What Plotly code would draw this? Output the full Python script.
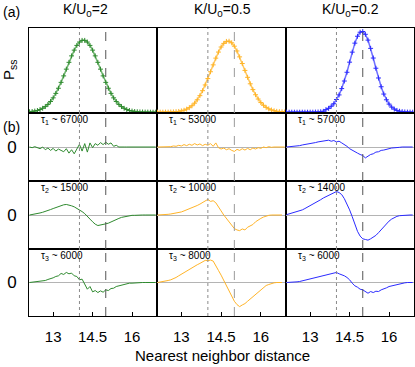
import plotly.graph_objects as go

# ---------------- data ----------------
x_nn = [12.1, 12.2, 12.3, 12.4, 12.5, 12.6, 12.7, 12.8, 12.9,
        13.0, 13.1, 13.2, 13.3, 13.4, 13.5, 13.6, 13.7, 13.8, 13.9,
        14.0, 14.1, 14.2, 14.3, 14.4, 14.5, 14.6, 14.7, 14.8, 14.9,
        15.0, 15.1, 15.2, 15.3, 15.4, 15.5, 15.6, 15.7, 15.8, 15.9,
        16.0, 16.1, 16.2, 16.3, 16.4, 16.5, 16.6, 16.7, 16.8, 16.9]

panel_titles = ["K/U<sub>0</sub>=2", "K/U<sub>0</sub>=0.5", "K/U<sub>0</sub>=0.2"]
x_ticks = [13, 14.5, 16]
x_tick_text = ["13", "14.5", "16"]
dotted_x = 14.0
dashed_x = 15.0

# (a) steady-state distributions
pss_k2 = [.005, .008, .013, .020, .031, .046, .066, .092, .127,
          .170, .223, .284, .354, .431, .511, .592, .669, .737, .793,
          .833, .853, .853, .833, .793, .737, .669, .592, .511, .431,
          .354, .284, .223, .170, .127, .092, .066, .046, .031, .020,
          .013, .008, .005, .003, .002, .001, .001, 0, 0, 0]
pss_k05 = [0, 0, 0, .001, .001, .002, .003, .006, .009,
           .015, .023, .036, .053, .076, .107, .147, .196, .255, .323,
           .399, .480, .562, .642, .714, .774, .817, .841, .843, .824,
           .784, .727, .657, .578, .496, .414, .337, .268, .207, .156,
           .114, .082, .057, .039, .026, .016, .010, .006, .004, .002]
pss_k02 = [0, 0, 0, 0, 0, 0, 0, 0, 0,
           0, 0, .001, .002, .005, .010, .030, .045, .070, .100,
           .150, .205, .280, .370, .474, .594, .713, .820, .902, .950,
           .958, .925, .856, .758, .643, .522, .406, .302, .215, .147,
           .096, .060, .036, .021, .011, .006, .003, .001, .001, 0]

# (b) modes
tau_labels = [["τ<sub>1</sub> ~ 67000", "τ<sub>1</sub> ~ 53000", "τ<sub>1</sub> ~ 57000"],
              ["τ<sub>2</sub> ~ 15000", "τ<sub>2</sub> ~ 10000", "τ<sub>2</sub> ~ 14000"],
              ["τ<sub>3</sub> ~ 6000", "τ<sub>3</sub> ~ 8000", "τ<sub>3</sub> ~ 6000"]]

m1_k2 = [0, -.02, .01, -.03, -.05, 0, -.08, -.03, -.10,
         -.04, -.12, -.06, -.10, -.14, -.05, -.18, -.08, -.20, -.06,
         .08, -.12, .10, -.15, .12, -.02, .10, .05, .13, .07,
         .14, .08, .12, .02, .05, 0, .01, 0, 0, 0,
         0, 0, 0, 0, 0, 0, 0, 0, 0, 0]
m1_k05 = [0, 0, .01, 0, .02, .01, .03, .02, .05,
          .03, .07, .04, .08, .05, .10, .06, .09, .04, .08,
          .05, .10, .02, .12, -.02, -.06, -.03, -.08, -.05, -.10,
          -.13, -.07, -.10, -.05, -.09, -.04, -.08, -.03, -.06, -.02,
          -.04, 0, -.02, .01, -.01, 0, 0, 0, 0, 0]
m1_k02 = [0, .005, .01, .02, .03, .04, .06, .07, .09,
          .10, .12, .13, .15, .16, .18, .17, .20, .17, .19,
          .15, .17, .12, .08, .02, -.05, -.10, -.15, -.18, -.22,
          -.25, -.32, -.26, -.22, -.20, -.15, -.14, -.10, -.09, -.06,
          -.05, -.03, -.03, -.01, -.01, 0, 0, 0, 0, 0]

m2_k2 = [0, .01, .02, .04, .06, .08, .10, .13, .16,
         .19, .22, .26, .28, .30, .31, .30, .27, .24, .20,
         .16, .10, .04, -.03, -.12, -.20, -.27, -.31, -.30, -.28,
         -.26, -.24, -.20, -.17, -.13, -.10, -.07, -.05, -.03, -.02,
         -.01, -.01, 0, 0, 0, 0, 0, 0, 0, 0]
m2_k05 = [0, 0, .01, .01, .02, .03, .04, .05, .07,
          .09, .12, .15, .18, .20, .24, .28, .32, .36, .40,
          .46, .40, .42, .36, .22, .12, 0, -.10, -.20, -.32,
          -.40, -.44, -.46, -.41, -.44, -.36, -.32, -.28, -.20, -.14,
          -.10, -.06, -.03, -.01, 0, 0, 0, 0, 0]
m2_k02 = [.01, .03, .05, .07, .09, .12, .15, .19, .23,
          .27, .31, .35, .40, .45, .50, .54, .58, .63, .67,
          .69, .66, .60, .48, .33, .15, -.05, -.28, -.48, -.62,
          -.70, -.72, -.74, -.70, -.66, -.60, -.52, -.43, -.34, -.25,
          -.18, -.12, -.07, -.04, -.02, -.01, 0, 0, 0, 0]

m3_k2 = [0, .01, 0, .02, .03, .05, .06, .09, .11,
         .14, .18, .20, .27, .24, .30, .26, .28, .20, .18,
         .08, .10, -.05, -.20, -.12, -.28, -.24, -.30, -.25, -.29,
         -.22, -.24, -.18, -.17, -.12, -.10, -.07, -.05, -.03, -.02,
         -.02, -.01, -.01, 0, 0, 0, 0, 0, 0, 0]
m3_k05 = [0, .01, .02, .04, .06, .08, .11, .15, .20,
          .25, .30, .35, .39, .44, .48, .53, .57, .62, .66,
          .65, .67, .64, .52, .36, .22, .06, -.12, -.28, -.44,
          -.56, -.66, -.72, -.67, -.63, -.56, -.49, -.42, -.35, -.28,
          -.20, -.14, -.09, -.06, -.03, -.01, 0, 0, 0]
m3_k02 = [0, 0, .01, .01, .02, .03, .05, .07, .09,
          .11, .13, .15, .17, .19, .21, .22, .24, .25, .27,
          .30, .26, .24, .20, .15, .08, -.02, -.10, -.14, -.20,
          -.22, -.28, -.32, -.27, -.30, -.26, -.27, -.22, -.20, -.16,
          -.12, -.10, -.07, -.05, -.03, -.02, -.01, 0, 0, 0]

pss_all = [pss_k2, pss_k05, pss_k02]
modes_all = [[m1_k2, m1_k05, m1_k02],
             [m2_k2, m2_k05, m2_k02],
             [m3_k2, m3_k05, m3_k02]]

# ---------------- layout / style ----------------
W, H = 415, 367
FONT = "Liberation Sans, Arial, Helvetica, sans-serif"


def fx(px):
    return px / W


def fy(py):
    return 1 - py / H


col_px = [(29, 157), (157, 286), (286, 414)]
row_px = [(28, 113), (113, 181), (181, 249), (249, 316)]
colors = ["#2f8a2f", "#ffb428", "#2b2bff"]
line_colors = ["#6fb56f", "#ffc860", "#7070ff"]
dash_colors = ["#555555", "#9a9a9a", "#555555"]

fig = go.Figure()
layout = dict(width=W, height=H, margin=dict(l=0, r=0, t=0, b=0),
              paper_bgcolor="white", plot_bgcolor="white",
              showlegend=False, font=dict(family=FONT, color="black"))
shapes = []
annotations = []

for r in range(4):
    for c in range(3):
        n = r * 3 + c + 1
        sfx = "" if n == 1 else str(n)
        x0, x1 = col_px[c]
        y0, y1 = row_px[r]
        layout["xaxis" + sfx] = dict(
            domain=[fx(x0), fx(x1)], range=[12.08, 16.95],
            anchor="y" + sfx,
            showline=True, mirror=True, linecolor="black", linewidth=1,
            showgrid=False, zeroline=False,
            tickvals=x_ticks, ticktext=x_tick_text,
            showticklabels=(r == 3), ticks="inside" if r == 3 else "",
            ticklen=4, tickcolor="black", tickfont=dict(size=15),
            ticklabelstandoff=7)
        if r == 0:
            yr = [-0.01, 1.0]
            zl = False
        else:
            yr = [-1.0, 1.0]
            zl = True
        layout["yaxis" + sfx] = dict(
            domain=[fy(y1), fy(y0)], range=yr, anchor="x" + sfx,
            showline=True, mirror=True, linecolor="black", linewidth=1,
            showgrid=False, zeroline=zl, zerolinecolor="#b4b4b4",
            zerolinewidth=1, tickvals=[0], ticktext=["0"], ticks="",
            showticklabels=(c == 0 and r > 0), tickfont=dict(size=17),
            ticklabelstandoff=8)

        xdom = "x" + sfx + " domain"
        ydom = "y" + sfx + " domain"
        if r == 0:
            fig.add_trace(go.Scatter(
                x=x_nn, y=pss_all[c], mode="lines+markers",
                line=dict(color=line_colors[c], width=1.5),
                marker=dict(symbol="cross-thin", size=3.5,
                            line=dict(color=colors[c], width=1)),
                xaxis="x" + sfx, yaxis="y" + sfx))
        else:
            fig.add_trace(go.Scatter(
                x=x_nn, y=modes_all[r - 1][c], mode="lines",
                line=dict(color=colors[c], width=1),
                xaxis="x" + sfx, yaxis="y" + sfx))
            annotations.append(dict(
                text=tau_labels[r - 1][c], xref=xdom,
                yref=ydom, x=0.08, y=1.0, xanchor="left",
                yanchor="top", showarrow=False, font=dict(size=10),
                yshift=1))

        shapes.append(dict(type="line", xref="x" + sfx,
                           yref=ydom, x0=dotted_x, x1=dotted_x,
                           y0=0, y1=1, line=dict(color="#8a8a8a", width=1,
                                                 dash="dot")))
        shapes.append(dict(type="line", xref="x" + sfx,
                           yref=ydom, x0=dashed_x, x1=dashed_x,
                           y0=0, y1=1, line=dict(color=dash_colors[c],
                                                 width=1, dash="dash")))

# Column titles
title_cx = [85, 222, 350]
for c in range(3):
    annotations.append(dict(text=panel_titles[c], xref="paper", yref="paper",
                            x=fx(title_cx[c]), y=fy(10), showarrow=False,
                            xanchor="center", yanchor="middle",
                            font=dict(size=14)))

annotations += [
    dict(text="(a)", xref="paper", yref="paper", x=fx(1), y=fy(12),
         xanchor="left", yanchor="middle", showarrow=False,
         font=dict(size=14)),
    dict(text="(b)", xref="paper", yref="paper", x=fx(1), y=fy(127),
         xanchor="left", yanchor="middle", showarrow=False,
         font=dict(size=14)),
    dict(text="P<sub>ss</sub>", xref="paper", yref="paper", x=fx(9),
         y=fy(70), textangle=-90, xanchor="center", yanchor="middle",
         showarrow=False, font=dict(size=15)),
    dict(text="Nearest neighbor distance", xref="paper", yref="paper",
         x=fx(222), y=fy(355), xanchor="center", yanchor="middle",
         showarrow=False, font=dict(size=15)),
]

layout["shapes"] = shapes
layout["annotations"] = annotations
fig.update_layout(**layout)
fig.write_html("out.html",
               config={"displayModeBar": False, "staticPlot": True},
               post_script="document.body.style.margin='0px';"
                           "document.body.style.overflow='hidden';")
